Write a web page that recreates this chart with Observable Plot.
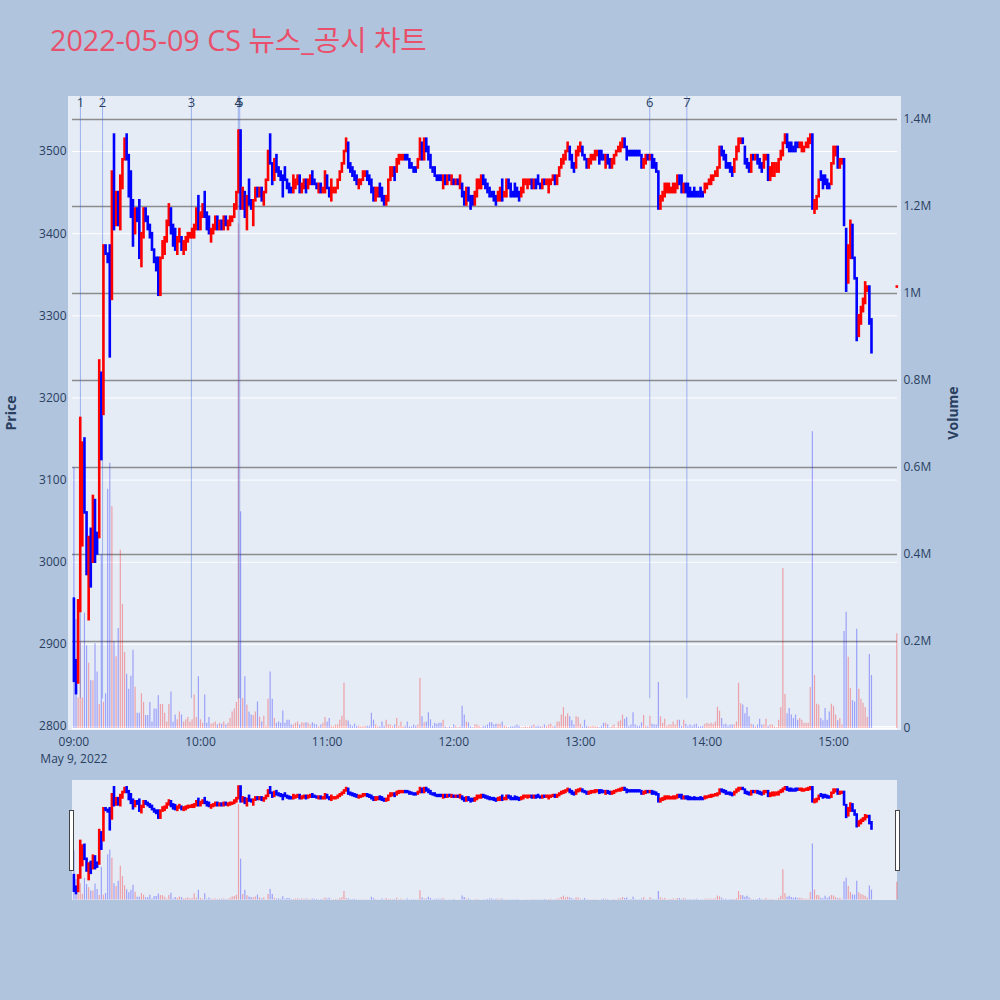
<!DOCTYPE html>
<html><head><meta charset="utf-8">
<script src="https://cdn.jsdelivr.net/npm/d3@7"></script>
<script src="https://cdn.jsdelivr.net/npm/@observablehq/plot@0.6"></script>
<style>
html,body{margin:0;padding:0;background:#b0c4de;}
#page{position:relative;width:1000px;height:1000px;overflow:hidden;background:#b0c4de;font-family:"Open Sans","Noto Sans CJK KR",sans-serif;}
#title{position:absolute;left:50px;top:25px;font-size:28.7px;line-height:29px;color:#e9506b;white-space:nowrap;}
.bg{position:absolute;background:#e5ecf6;}
.layer{position:absolute;left:0;}
.axt{position:absolute;font-size:14px;font-weight:bold;color:#2a3f5f;transform:translate(-50%,-50%) rotate(-90deg);white-space:nowrap;}
.grab{position:absolute;background:#fff;border:1px solid #444;box-sizing:border-box;}
</style></head>
<body><div id="page">
<div id="title">2022-05-09 CS 뉴스_공시 차트</div>
<div class="bg" style="left:68px;top:96px;width:833px;height:634px;"></div>
<div class="bg" style="left:72px;top:780px;width:825px;height:120px;"></div>
<div class="axt" style="left:10px;top:413px;">Price</div>
<div class="axt" style="left:952px;top:413px;">Volume</div>
</div>
<script>
// ---- data (one candle per minute from 09:00) ----
const opens = [
2955,2880,2853,2940,3020,3150,3060,2930,3040,3000,
3075,3035,3030,3230,3180,3385,3375,3385,3320,3520,
3410,3450,3405,3455,3490,3520,3495,3475,3440,3400,
3430,3440,3360,3395,3430,3420,3410,3400,3380,3370,
3370,3325,3370,3375,3390,3410,3430,3410,3405,3375,
3390,3395,3375,3380,3390,3395,3395,3395,3405,3445,
3405,3420,3450,3425,3420,3390,3400,3405,3420,3405,
3415,3405,3420,3405,3410,3415,3420,3430,3450,3525,
3430,3450,3405,3465,3440,3410,3440,3455,3445,3455,
3435,3450,3465,3520,3485,3465,3495,3480,3475,3470,
3480,3465,3460,3455,3450,3455,3460,3470,3450,3455,
3465,3455,3460,3475,3465,3460,3450,3460,3450,3450,
3470,3455,3440,3450,3450,3455,3465,3475,3485,3500,
3510,3485,3480,3475,3470,3455,3460,3465,3470,3475,
3470,3465,3455,3440,3445,3460,3455,3445,3435,3440,
3465,3470,3480,3475,3485,3490,3490,3495,3495,3490,
3485,3480,3480,3480,3490,3510,3490,3515,3505,3495,
3480,3480,3470,3470,3470,3455,3470,3460,3470,3460,
3465,3460,3465,3455,3460,3450,3435,3455,3445,3445,
3435,3445,3455,3455,3470,3465,3460,3455,3450,3450,
3445,3440,3440,3465,3445,3445,3465,3460,3450,3460,
3455,3450,3445,3450,3460,3455,3460,3465,3455,3465,
3470,3460,3455,3465,3460,3450,3460,3465,3470,3460,
3470,3480,3485,3490,3500,3505,3495,3485,3480,3495,
3500,3505,3495,3490,3480,3485,3490,3490,3495,3500,
3500,3495,3480,3495,3490,3480,3485,3495,3500,3500,
3505,3515,3505,3500,3500,3500,3500,3500,3500,3495,
3480,3485,3495,3490,3495,3490,3485,3475,3430,3440,
3445,3450,3450,3450,3450,3450,3455,3470,3470,3450,
3460,3460,3455,3450,3455,3450,3450,3455,3450,3450,
3455,3460,3460,3465,3470,3470,3480,3505,3500,3495,
3485,3485,3480,3475,3490,3500,3510,3515,3505,3490,
3485,3475,3495,3490,3495,3490,3485,3480,3490,3495,
3465,3470,3470,3475,3475,3490,3495,3510,3520,3510,
3510,3505,3510,3510,3505,3500,3500,3505,3505,3510,
3520,3425,3430,3445,3475,3470,3470,3465,3460,3460,
3485,3495,3505,3480,3485,3490,3405,3340,3370,3410,
3370,3345,3275,3290,3305,3315,3330,3335,3295];
const closes = [
2855,2840,2953,3175,3145,3060,2985,3030,2970,3080,
3000,3010,3245,3125,3385,3375,3365,3250,3475,3405,
3450,3410,3470,3490,3515,3490,3445,3420,3385,3430,
3415,3370,3400,3430,3415,3405,3395,3380,3365,3355,
3325,3370,3390,3395,3415,3435,3400,3385,3380,3395,
3405,3380,3390,3395,3400,3400,3405,3410,3430,3405,
3425,3435,3420,3405,3400,3405,3410,3420,3405,3415,
3405,3420,3410,3415,3420,3420,3435,3450,3525,3430,
3455,3420,3445,3435,3430,3440,3455,3445,3455,3440,
3450,3465,3500,3485,3460,3490,3475,3470,3465,3445,
3465,3455,3450,3450,3470,3465,3470,3450,3460,3465,
3450,3465,3470,3460,3460,3455,3460,3450,3455,3475,
3455,3445,3465,3455,3455,3465,3475,3485,3500,3515,
3480,3475,3470,3465,3460,3465,3465,3475,3475,3465,
3460,3450,3440,3455,3455,3445,3440,3435,3445,3465,
3480,3480,3465,3490,3495,3495,3495,3490,3490,3480,
3480,3475,3475,3490,3515,3490,3515,3500,3490,3480,
3475,3470,3465,3465,3465,3470,3460,3470,3465,3470,
3460,3465,3460,3470,3445,3435,3455,3440,3430,3435,
3450,3465,3465,3470,3460,3455,3450,3445,3445,3440,
3435,3450,3455,3440,3450,3465,3455,3445,3445,3445,
3445,3440,3455,3465,3465,3465,3465,3455,3465,3455,
3460,3455,3465,3460,3465,3465,3465,3470,3460,3470,
3480,3490,3495,3500,3510,3490,3480,3475,3500,3505,
3510,3495,3490,3480,3490,3495,3495,3500,3500,3485,
3490,3490,3495,3485,3480,3490,3495,3500,3505,3510,
3515,3505,3490,3495,3495,3495,3495,3495,3495,3480,
3490,3495,3490,3495,3480,3480,3475,3430,3445,3450,
3460,3460,3460,3455,3460,3460,3470,3460,3450,3460,
3450,3445,3445,3445,3445,3445,3445,3445,3445,3460,
3460,3465,3470,3470,3475,3480,3505,3495,3490,3480,
3480,3475,3470,3490,3505,3515,3515,3510,3485,3480,
3475,3495,3490,3495,3485,3480,3475,3495,3495,3465,
3480,3485,3485,3485,3490,3500,3510,3520,3505,3500,
3500,3500,3500,3505,3510,3510,3505,3510,3515,3520,
3430,3440,3445,3465,3465,3455,3460,3455,3455,3485,
3505,3505,3480,3490,3490,3410,3330,3385,3415,3370,
3345,3270,3300,3310,3320,3340,3335,3290,3255];
// volume per minute, thousands of shares
const volumesK = [
600,250,70,200,70,265,190,150,110,110,
195,130,55,400,60,80,550,610,510,200,
165,230,410,285,175,125,90,120,180,95,
35,35,80,60,30,30,60,15,45,45,
75,55,55,35,15,55,84,15,31,20,
38,31,15,20,25,15,20,77,25,119,
20,12,77,12,25,10,12,15,8,12,
10,15,8,12,23,38,45,60,1160,498,
69,119,54,38,31,30,38,61,26,15,
28,5,67,130,67,23,12,15,12,40,
12,19,19,8,8,12,15,8,13,12,
13,12,8,13,10,8,4,8,12,25,
15,23,5,4,8,8,19,28,104,19,
17,8,5,10,5,5,4,4,5,5,
5,35,19,8,4,4,15,5,19,8,
8,5,8,23,5,15,4,5,15,4,
4,8,5,8,115,27,13,15,36,20,
5,12,10,12,12,19,4,2,4,2,
8,5,2,4,51,31,15,13,4,2,
8,8,5,2,5,5,8,13,13,8,
10,10,10,15,5,4,2,4,4,5,
8,5,2,2,4,2,4,5,8,4,
5,4,4,8,5,8,10,4,5,15,
15,31,48,27,34,27,18,8,27,25,
10,4,19,5,4,4,5,4,4,2,
5,12,12,8,2,5,8,2,15,18,
31,21,25,5,8,36,8,5,5,13,
30,5,4,28,10,8,8,106,27,12,
21,5,8,8,15,8,19,19,5,19,
10,5,8,5,8,10,4,4,5,10,
12,10,12,10,15,49,40,23,8,10,
5,8,8,8,15,104,57,54,34,48,
27,10,8,4,8,21,8,8,21,5,
8,8,4,2,19,48,368,78,34,46,
31,23,31,19,23,19,12,12,12,94,
682,122,56,54,23,18,46,19,38,56,
51,31,18,23,8,223,267,164,92,64,
61,228,90,67,58,48,25,170,122];
const auctionTime = "15:30";
const auctionOpen = 3335, auctionClose = 3335, auctionVolumeK = 218;
const newsTimes = ["09:03:05","09:13:35","09:55:40","10:17:55","10:18:35","13:32:55","13:50:30"];
const newsLabels = ["1","2","3","4","5","6","7"];
const priceTicks = [2800,2900,3000,3100,3200,3300,3400,3500];
const volumeTicks = [0,200000,400000,600000,800000,1000000,1200000,1400000];
const timeTicks = ["09:00","10:00","11:00","12:00","13:00","14:00","15:00"];
const dateLabel = "May 9, 2022";

// ---- build table ----
const at = s => { const [h,m,sec=0] = s.split(":").map(Number); return new Date(2022,4,9,h,m,sec); };
const rows = opens.map((o,i) => ({t:new Date(2022,4,9,9,i), open:o, close:closes[i], vol:volumesK[i]*1000}));
rows.push({t:at(auctionTime), open:auctionOpen, close:auctionClose, vol:auctionVolumeK*1000});
rows.forEach((r,i) => {
  const prev = i>0 ? rows[i-1].close : r.open;
  r.up = r.close > r.open || (r.close === r.open && r.close >= prev);
});
const news = newsTimes.map((s,i) => ({t:at(s), label:newsLabels[i]}));

const FONT = '"Open Sans","Noto Sans CJK KR",sans-serif';
const xDomain = [at("08:59:20"), at("15:30:20")];
const priceDomain = [2795.1, 3567];
const volDomain = [-4600, 1452900];
const RED = "#ff0000", BLUE = "#0000ff";
const page = document.getElementById("page");

function base(o) {
  return Object.assign({width:1000, height:770, marginLeft:72, marginRight:103, marginTop:96, marginBottom:40,
    style:{background:"transparent", fontFamily:FONT, fontSize:"12px", color:"#2a3f5f", overflow:"visible"}}, o);
}
function add(svg, top) { svg.classList.add("layer"); svg.style.top = top + "px"; page.appendChild(svg); }

// layer 1: price grid + left axis
add(Plot.plot(base({
  x:{type:"time", domain:xDomain, axis:null},
  y:{domain:priceDomain, ticks:priceTicks, tickSize:0, tickPadding:6, label:null, tickFormat:d=>String(d)},
  marks:[Plot.ruleY(priceTicks, {stroke:"#ffffff", strokeWidth:1})]
})), 0);

// layer 2: volume grid, bars, news lines, right axis, time axis
const newsY1 = volDomain[0] + 0.05*(volDomain[1]-volDomain[0]);
add(Plot.plot(base({
  x:{type:"time", domain:xDomain, ticks:timeTicks.map(at), tickSize:0, tickPadding:7, label:null,
     tickFormat:d3.timeFormat("%H:%M")},
  y:{domain:volDomain, axis:"right", ticks:volumeTicks, tickSize:0, tickPadding:6, label:null,
     tickFormat:v => v===0 ? "0" : (v/1e6)+"M"},
  marks:[
    Plot.ruleY(volumeTicks.slice(1), {stroke:"#8c8c8c", strokeWidth:1.3}),
    Plot.ruleY([0], {stroke:"#ffffff", strokeWidth:2}),
    Plot.ruleX(rows, {x:"t", y1:0, y2:"vol", stroke:d=>d.up?RED:BLUE, strokeOpacity:0.32, strokeWidth:1.2}),
    Plot.ruleX(news, {x:"t", y1:newsY1, y2:volDomain[1], stroke:"#4169e1", strokeOpacity:0.45, strokeWidth:1}),
    Plot.text(news, {x:"t", text:"label", frameAnchor:"top", dy:1, fontSize:13, fill:"#2a3f5f"}),
    Plot.text([at(timeTicks[0])], {x:d=>d, text:[dateLabel], frameAnchor:"bottom", dy:32, fontSize:12, fill:"#2a3f5f"})
  ]
})), 0);

// layer 3: candles
add(Plot.plot(base({
  x:{type:"time", domain:xDomain, axis:null},
  y:{domain:priceDomain, axis:null},
  marks:[Plot.ruleX(rows, {x:"t", y1:"open", y2:"close", stroke:d=>d.up?RED:BLUE, strokeWidth:2.6, strokeLinecap:"square"})]
})), 0);

// range slider
function sbase(o) {
  return Object.assign({width:1000, height:120, marginLeft:72, marginRight:103, marginTop:0, marginBottom:0,
    style:{background:"transparent", overflow:"visible"}}, o);
}
add(Plot.plot(sbase({
  x:{type:"time", domain:xDomain, axis:null},
  y:{domain:volDomain, axis:null},
  marks:[Plot.ruleX(rows, {x:"t", y1:0, y2:"vol", stroke:d=>d.up?RED:BLUE, strokeOpacity:0.32, strokeWidth:1.2})]
})), 780);
add(Plot.plot(sbase({
  x:{type:"time", domain:xDomain, axis:null},
  y:{domain:priceDomain, axis:null},
  marks:[Plot.ruleX(rows, {x:"t", y1:"open", y2:"close", stroke:d=>d.up?RED:BLUE, strokeWidth:2.6, strokeLinecap:"square"})]
})), 780);

// slider grabbers
for (const left of [69, 895]) {
  const g = document.createElement("div");
  g.className = "grab";
  g.style.cssText = `left:${left}px;top:810px;width:5px;height:61px;`;
  page.appendChild(g);
}
</script>
</body></html>
